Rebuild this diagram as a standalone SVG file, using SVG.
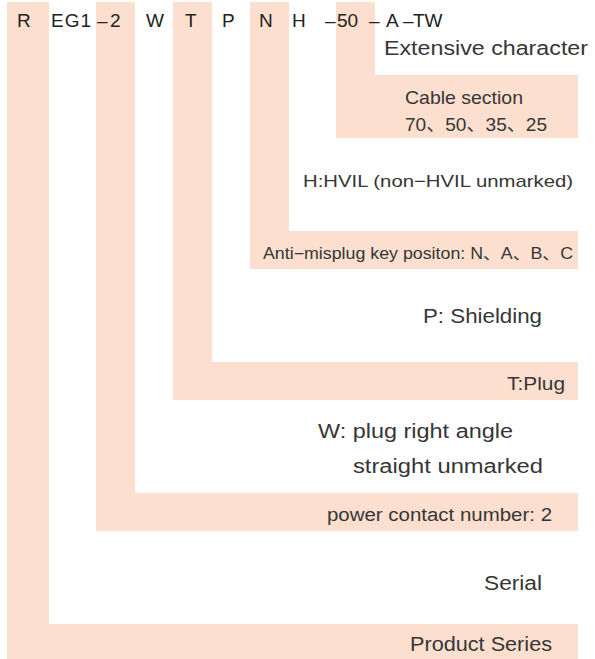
<svg xmlns="http://www.w3.org/2000/svg" width="595" height="659" viewBox="0 0 595 659">
<style>
.band{fill:#FCDFCF;stroke:none}
text{font-family:"Liberation Sans","Noto Sans CJK SC",sans-serif;fill:#363636}
.code{font-size:19px;fill:#222222}
</style>
<rect x="0" y="0" width="595" height="659" fill="#FFFFFF"/>
<g id="bands">
<g id="node-product-series">
<path class="band" d="M7,2 H49 V624 H578 V659 H7 Z"/>
<text x="484" y="590" font-size="20" textLength="58" lengthAdjust="spacingAndGlyphs">Serial</text>
<text x="410" y="651" font-size="20" textLength="142" lengthAdjust="spacingAndGlyphs">Product Series</text>
</g>
<g id="node-power-contact">
<path class="band" d="M96,2 H135 V493 H578 V531 H96 Z"/>
<text x="318" y="438" font-size="20" textLength="195" lengthAdjust="spacingAndGlyphs">W: plug right angle</text>
<text x="353" y="473" font-size="20" textLength="190" lengthAdjust="spacingAndGlyphs">straight unmarked</text>
<text x="327" y="521" font-size="18" textLength="225" lengthAdjust="spacingAndGlyphs">power contact number: 2</text>
</g>
<g id="node-plug">
<path class="band" d="M173,2 H212 V362 H578 V400 H173 Z"/>
<text x="423" y="323" font-size="20" textLength="119" lengthAdjust="spacingAndGlyphs">P: Shielding</text>
<text x="507" y="390" font-size="18" textLength="58" lengthAdjust="spacingAndGlyphs">T:Plug</text>
</g>
<g id="node-key">
<path class="band" d="M250,2 H289 V231 H578 V269 H250 Z"/>
<text x="303" y="187" font-size="17" textLength="270" lengthAdjust="spacingAndGlyphs">H:HVIL (non−HVIL unmarked)</text>
<text x="263" y="259" font-size="16" textLength="310" lengthAdjust="spacingAndGlyphs">Anti−misplug key positon: N、A、B、C</text>
</g>
<g id="node-cable">
<path class="band" d="M336,2 H375 V75 H578 V138 H336 Z"/>
<text x="384" y="55" font-size="20" textLength="204" lengthAdjust="spacingAndGlyphs">Extensive character</text>
<text x="405" y="104" font-size="19" textLength="118" lengthAdjust="spacingAndGlyphs">Cable section</text>
<text x="405" y="131" font-size="19" textLength="142" lengthAdjust="spacingAndGlyphs">70、50、35、25</text>
</g>
</g>
<g id="node-code">
<text class="code" x="17" y="27">R</text>
<text class="code" x="51" y="27" textLength="40" lengthAdjust="spacing">EG1</text>
<text class="code" x="97" y="27">–</text>
<text class="code" x="110" y="27">2</text>
<text class="code" x="146" y="27">W</text>
<text class="code" x="185" y="27">T</text>
<text class="code" x="222" y="27">P</text>
<text class="code" x="259" y="27">N</text>
<text class="code" x="292" y="27">H</text>
<text class="code" x="325" y="27">–</text>
<text class="code" x="337" y="27">50</text>
<text class="code" x="369" y="27">–</text>
<text class="code" x="386" y="27">A</text>
<text class="code" x="403" y="27">–</text>
<text class="code" x="413" y="27">TW</text>
</g>
<g id="connectors"/>
</svg>
